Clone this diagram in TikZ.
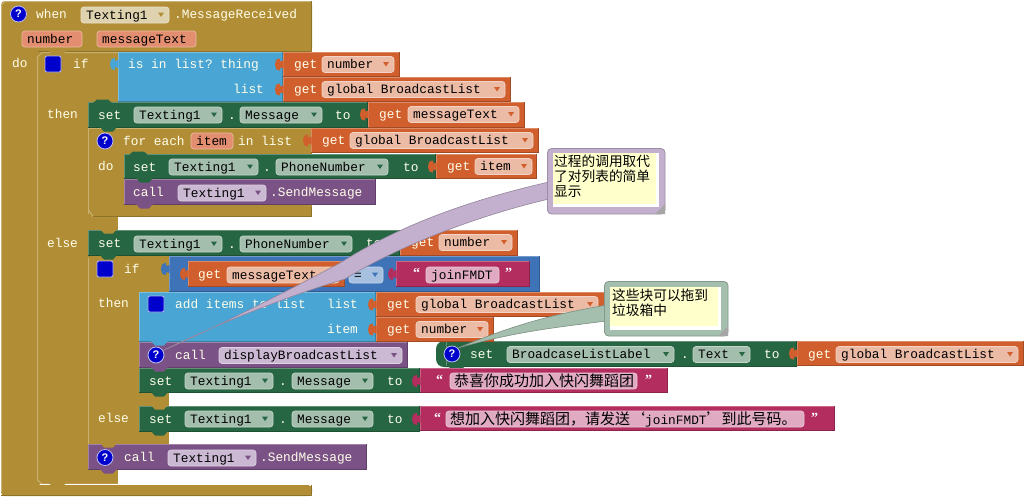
\documentclass[tikz,border=0pt]{standalone}
\usepackage{fontspec}
\setmonofont{Liberation Mono}
\newfontfamily\cjkf{Noto Sans CJK SC}
\newfontfamily\qfont{Liberation Sans}
\newfontfamily\quotef{Liberation Serif}
\definecolor{gold}{HTML}{B18E35}
\definecolor{goldL}{HTML}{C9B271}
\definecolor{goldD}{HTML}{8E7228}
\definecolor{grn}{HTML}{266643}
\definecolor{org}{HTML}{D05F2D}
\definecolor{pur}{HTML}{7B5285}
\definecolor{sky}{HTML}{49A5D4}
\definecolor{dblue}{HTML}{3E73B8}
\definecolor{mag}{HTML}{B32D5E}
\definecolor{pmag}{HTML}{E0ABC2}
\definecolor{porg}{HTML}{ECBBA5}
\definecolor{pgrn}{HTML}{A4BEAE}
\definecolor{ppur}{HTML}{CBB9D3}
\definecolor{pbei}{HTML}{DFD2AF}
\definecolor{psal}{HTML}{E38E70}
\definecolor{pblu}{HTML}{A8C0E0}
\definecolor{icon}{HTML}{0000CC}
\definecolor{cpur}{HTML}{C3B0CF}
\definecolor{cgrn}{HTML}{A5BFAE}
\definecolor{note}{HTML}{FFFFCC}
\tikzset{
  basetxt/.style={inner sep=0pt,anchor=base west,font=\ttfamily\fontsize{12.8}{13}\selectfont},
  lbl/.style={basetxt,text=white!92!yellow},
  fldtxt/.style={basetxt,text=black},
  cjktxt/.style={inner sep=0pt,anchor=base west,text=black,font=\cjkf\fontsize{15}{15}\selectfont},
  quot/.style={inner sep=0pt,anchor=base west,text=white,font=\quotef\bfseries\fontsize{14}{14}\selectfont},
  notetxt/.style={inner sep=0pt,anchor=north west,align=left,text=black,font=\cjkf\fontsize{13.7}{15}\selectfont},
  qmark/.style={inner sep=0pt,text=white,font=\qfont\bfseries\fontsize{11}{11}\selectfont},
}
\newcount\nodeno
\newcommand{\nnode}{\global\advance\nodeno by 1 \node[name=n\the\nodeno]}
\newcommand{\blk}[5]{%
  \fill[#1] (#2,#3) rectangle (#4,#5);
  \draw[#1!72!white,line width=1pt] (#2+.5,#5) -- (#2+.5,#3+.5) -- (#4,#3+.5);
  \draw[#1!78!black,line width=1pt] (#2,#5-.5) -- (#4-.5,#5-.5) -- (#4-.5,#3);}
\newcommand{\tabc}[3]{%
  \fill[#3] (#1+.5,#2-4) -- (#1-3,#2-3) -- (#1-3,#2-6) .. controls (#1-7,#2-6) and (#1-8,#2-3) .. (#1-8,#2)
    .. controls (#1-8,#2+3) and (#1-7,#2+6) .. (#1-3,#2+6) -- (#1-3,#2+3) -- (#1+.5,#2+4) -- cycle;}
\newcommand{\bump}[3]{%
  \fill[#3] (#1+12,#2-1) -- (#1+16,#2+3.5) -- (#1+25,#2+3.5) -- (#1+29,#2-1) -- cycle;}
\newcommand{\topbump}[3]{%
  \fill[#3] (#1+5,#2+1) -- (#1+9,#2-2.5) -- (#1+20,#2-2.5) -- (#1+24,#2+1) -- cycle;}
\newcommand{\lab}[3]{\nnode[lbl] at (#1,#2+4) {#3};}
\newcommand{\pilln}[5]{% x1 x2 yc color text (no arrow)
  \fill[#4,draw=#4!65!white,line width=.7pt,rounded corners=3pt] (#1,#3-8) rectangle (#2,#3+8);
  \nnode[fldtxt] at (#1+5,#3+4) {#5};}
\newcommand{\pill}[6]{% x1 x2 yc color arrow text
  \pilln{#1}{#2}{#3}{#4}{#6}
  \fill[#5] (#2-11,#3-2.5) -- (#2-5,#3-2.5) -- (#2-8,#3+2) -- cycle;}
\newcommand{\qicon}[2]{%
  \fill[icon,draw=white!75!icon,line width=.8pt] (#1,#2) circle (8);
  \nnode[qmark] at (#1,#2) {?};}
\newcommand{\micon}[2]{%
  \fill[icon,draw=white!70!icon,line width=.8pt,rounded corners=2pt] (#1-8,#2-8) rectangle (#1+8,#2+8);}
\newcommand{\getblk}[7]{% x1 y1 x2 y2 pillx1 pillx2 text
  \blk{org}{#1}{#2}{#3}{#4}
  \tabc{#1}{#2+12.5}{org}
  \lab{#1+11}{#2+12.5}{get}
  \pill{#5}{#6}{#2+12.5}{porg}{org}{#7}}
\begin{document}
\begin{tikzpicture}[x=1pt,y=-1pt,line join=round]
\useasboundingbox (0,0) rectangle (1024,496);
\fill[white] (0,0) rectangle (1024,496);
% --- gold frames
\fill[gold,rounded corners=4pt] (1,1) -- (312,1) -- (312,52) -- (37,52) -- (37,485) -- (312,485) -- (312,496) -- (1,496) -- cycle;
\fill[gold] (37,50) rectangle (118,102);
\fill[gold] (37,100) rectangle (88,484);
\fill[gold] (88,128) rectangle (312,154);
\fill[gold] (88,150) rectangle (124,217);
\fill[gold] (88,205) rectangle (312,217);
\fill[gold] (88,215) rectangle (118,232);
\fill[gold] (88,256) rectangle (169,292);
\fill[gold] (88,290) rectangle (139,446);
\fill[gold] (137,392) rectangle (169,408);
\fill[gold] (137,431) rectangle (169,446);
\fill[gold] (88,468) rectangle (118,484);
\draw[goldL,line width=1pt] (1.5,492) -- (1.5,5) -- (5,1.5) -- (311,1.5);
\draw[goldD,line width=1pt] (38,51.5) -- (311.5,51.5) -- (311.5,1);
\draw[goldL,line width=1pt] (118,52.5) -- (42,52.5) -- (37.5,57) -- (37.5,480) -- (42,484) -- (118,484);
\draw[goldL,line width=.8pt] (88.5,128) -- (88.5,214);
\draw[goldL,line width=1pt] (88.5,210) -- (93,216.5) -- (118,216.5);
\draw[goldD,line width=1pt] (93,216.5) -- (311.5,216.5) -- (311.5,207);
\draw[goldL,line width=.8pt] (88.5,128.5) -- (312,128.5);
\draw[goldL,line width=.8pt] (88.5,258) -- (88.5,444);
\draw[goldD,line width=1pt] (1,495.5) -- (311.5,495.5) -- (311.5,485);
\draw[white,line width=1pt] (40,484.8) -- (118,484.8);
% --- blocks
\blk{sky}{118}{52}{283}{102}
\tabc{118}{64}{sky}
\bump{37}{52}{gold}
\blk{grn}{88}{102}{368}{128}
\topbump{88}{102}{grn}
\blk{pur}{124}{179}{376}{205}
\blk{grn}{124}{154}{436}{179}
\topbump{124}{154}{grn}
\bump{124}{179}{grn}
\bump{124}{205}{pur}
\bump{88}{128}{grn}
\blk{grn}{88}{230}{400}{256}
\bump{88}{230}{gold}
\bump{88}{256}{grn}
\blk{dblue}{169}{256}{540}{292}
\tabc{169}{269}{dblue}
\blk{sky}{139}{292}{376}{342}
\blk{pur}{139}{342}{408}{368}
\bump{139}{342}{sky}
\blk{grn}{139}{368}{420}{393}
\bump{139}{368}{pur}
\bump{139}{393}{grn}
\blk{grn}{139}{406}{420}{432}
\bump{139}{406}{gold}
\bump{139}{432}{grn}
\blk{pur}{88}{444}{367}{470}
\bump{88}{444}{gold}
\bump{88}{470}{pur}
\bump{37}{484}{gold}
% floating block
\fill[grn,rounded corners=8pt] (436,341) rectangle (460,367);
\blk{grn}{446}{341}{797}{367}
\bump{436}{367}{grn}
% --- head
\lab{36}{14}{when}
\pill{81}{169}{15}{pbei}{gold}{Texting1}
\lab{174}{14}{.MessageReceived}
\pilln{22}{82}{39}{psal}{number}
\pilln{97}{196}{39}{psal}{messageText}
\lab{12}{63}{do}
\lab{73}{64}{if}
% is in list
\lab{128}{64}{is in list? thing}
\lab{233}{89}{list}
\getblk{283}{52}{400}{77}{322}{394}{number}
\getblk{283}{77}{511}{102}{322}{505}{global BroadcastList}
% then set
\lab{47}{114}{then}
\lab{98}{115}{set}
\pill{134}{222}{115}{pgrn}{grn}{Texting1}
\lab{228}{115}{.}
\pill{240}{322}{115}{pgrn}{grn}{Message}
\lab{335}{115}{to}
\getblk{368}{102}{525}{128}{408}{519}{messageText}
% for each
\lab{123}{141}{for each}
\pilln{191}{233}{141}{psal}{item}
\lab{238}{141}{in list}
\getblk{311}{128}{539}{153}{350}{533}{global BroadcastList}
\lab{98}{166}{do}
\lab{133}{167}{set}
\pill{169}{258}{167}{pgrn}{grn}{Texting1}
\lab{263}{167}{.}
\pill{276}{388}{167}{pgrn}{grn}{PhoneNumber}
\lab{403}{167}{to}
\getblk{436}{154}{537}{179}{475}{532}{item}
\lab{133}{192}{call}
\pill{178}{266}{193}{ppur}{pur}{Texting1}
\lab{270}{192}{.SendMessage}
% else
\lab{47}{243}{else}
\lab{98}{243}{set}
\pill{134}{222}{244}{pgrn}{grn}{Texting1}
\lab{228}{244}{.}
\pill{240}{352}{244}{pgrn}{grn}{PhoneNumber}
\lab{366}{243}{to}
\getblk{400}{230}{518}{256}{439}{512}{number}
\lab{124}{269}{if}
\blk{org}{188}{261}{345}{287}
\tabc{188}{274}{org}
\lab{198}{274}{get}
\pill{227}{339}{275}{porg}{org}{messageText}
\pill{349}{383}{275}{pblu}{dblue}{=}
\blk{mag}{396}{261}{530}{287}
\tabc{396}{274}{mag}
\nnode[quot] at (413,277) {“};
\pilln{426}{499}{275}{pmag}{joinFMDT}
\nnode[quot] at (505,277) {”};
% then add items
\lab{98}{303}{then}
\lab{175}{304}{add items to list}
\lab{327}{304}{list}
\lab{327}{329}{item}
\getblk{376}{292}{605}{317}{416}{598}{global BroadcastList}
\getblk{376}{317}{494}{342}{416}{488}{number}
% call display
\lab{175}{355}{call}
\pill{219}{402}{355.5}{ppur}{pur}{displayBroadcastList}
% set message 1
\lab{149}{381}{set}
\pill{185}{273}{381}{pgrn}{grn}{Texting1}
\lab{279}{381}{.}
\pill{292}{373}{381}{pgrn}{grn}{Message}
\lab{387}{381}{to}
\blk{mag}{420}{368}{668}{393}
\tabc{420}{381}{mag}
\nnode[quot] at (436,384) {“};
\fill[pmag,draw=pmag!65!white,line width=.7pt,rounded corners=3pt] (450,373) rectangle (637,389);
\nnode[cjktxt] at (454,386) {恭喜你成功加入快闪舞蹈团};
\nnode[quot] at (645,384) {”};
% else set message 2
\lab{98}{418}{else}
\lab{149}{419}{set}
\pill{185}{273}{419}{pgrn}{grn}{Texting1}
\lab{279}{419}{.}
\pill{292}{373}{419}{pgrn}{grn}{Message}
\lab{387}{419}{to}
\blk{mag}{420}{406}{835}{431}
\tabc{420}{419}{mag}
\nnode[quot] at (434,422) {“};
\fill[pmag,draw=pmag!65!white,line width=.7pt,rounded corners=3pt] (446,411) rectangle (804,427);
\nnode[cjktxt] at (450,424) {想加入快闪舞蹈团，请发送\makebox[15pt]{‘}{\ttfamily\fontsize{12.8}{13}\selectfont joinFMDT}\makebox[15pt]{’}到此号码。};
\nnode[quot] at (811,422) {”};
% last call
\lab{124}{457}{call}
\pill{168}{256}{458}{ppur}{pur}{Texting1}
\lab{260}{457}{.SendMessage}
% floating set
\lab{470}{354}{set}
\pill{507}{674}{354.5}{pgrn}{grn}{BroadcaseListLabel}
\lab{681}{354}{.}
\pill{693}{750}{354.5}{pgrn}{grn}{Text}
\lab{764}{354}{to}
\blk{org}{797}{341}{1024}{366}
\tabc{797}{353.5}{org}
\lab{808}{354}{get}
\pill{836}{1018}{354.5}{porg}{org}{global BroadcastList}
% --- comment tails
\fill[cpur,draw=cpur!75!black,line width=.6pt] (549,182) .. controls (470,200) and (400,225) .. (340,263)
  .. controls (280,295) and (210,330) .. (162,351)
  .. controls (215,325) and (290,295) .. (345,279)
  .. controls (400,245) and (480,215) .. (549,199) -- cycle;
\fill[cgrn,draw=cgrn!75!black,line width=.6pt] (606,305) .. controls (570,312) and (530,318) .. (458,348)
  .. controls (520,330) and (570,326) .. (606,321) -- cycle;
% --- comment boxes
\fill[cpur,draw=cpur!80!black,line width=.8pt,rounded corners=4pt] (547.5,148.5) rectangle (665,214);
\fill[white] (553,153) rectangle (659,207);
\fill[note] (553,153) rectangle (656,204);
\nnode[notetxt] at (554,154.5) {过程的调用取代\\了对列表的简单\\显示};
\fill[black!35] (655,214) -- (665,204) -- (665,214) -- cycle;
\fill[cgrn,draw=cgrn!80!black,line width=.8pt,rounded corners=4pt] (604.5,281.5) rectangle (728,336);
\fill[white] (610,287) rectangle (721,330);
\fill[note] (610,287) rectangle (718,326);
\nnode[notetxt] at (612,288.5) {这些块可以拖到\\垃圾箱中};
\fill[black!35] (718,336) -- (728,326) -- (728,336) -- cycle;
% --- icons
\qicon{18.5}{14}
\micon{53}{64}
\qicon{105}{141}
\micon{105}{269}
\micon{156}{304}
\qicon{156}{355}
\qicon{105}{457.5}
\qicon{452}{354}
\end{tikzpicture}
\end{document}
